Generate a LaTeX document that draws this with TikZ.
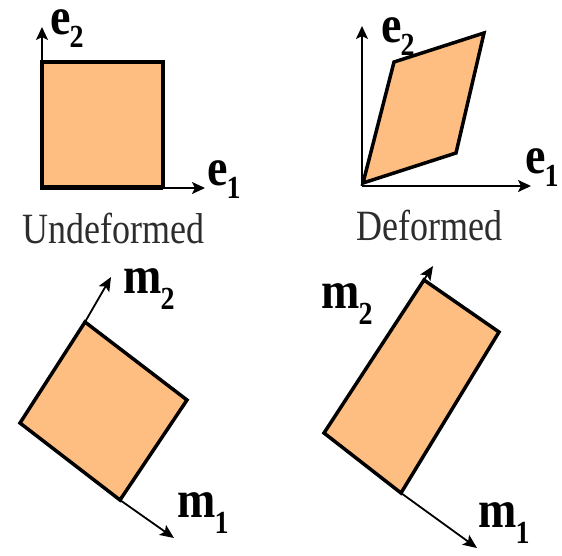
\documentclass[tikz,border=0pt]{standalone}
\usepackage{fontspec}
\setmainfont{Liberation Serif}
\usetikzlibrary{arrows.meta}
\definecolor{fillor}{RGB}{254,190,130}
\definecolor{txtgrey}{RGB}{45,45,45}
\newcommand\veclbl[3][14pt]{\scalebox{1}[1.15]{\fontsize{46}{46}\selectfont\bfseries #2\kern-1pt\raisebox{-#1}{\fontsize{28}{28}\selectfont #3}}}
\newcommand\caplbl[1]{\scalebox{1}[1.2]{\fontsize{36}{36}\selectfont #1}}
\tikzset{
  shapefill/.style={fill=fillor, draw=black, line width=3.5pt, line join=miter},
  axis/.style={draw=black, line width=2pt, -{Stealth[length=13pt,width=12pt,inset=3pt]}},
  mvec/.style={draw=black, line width=1.8pt, -{Stealth[length=14pt,width=12pt,inset=3pt]}},
  lbl/.style={inner sep=0pt, anchor=base west},
}
\begin{document}
\begin{tikzpicture}[x=1pt,y=-1pt]
\useasboundingbox (0,0) rectangle (562,555);
% ---------- undeformed ----------
\coordinate (o1) at (42,188);
\coordinate (y1) at (42,27);
\coordinate (x1) at (205,188);
\fill[fillor] (42,62) rectangle (163,188);
\draw[axis] (o1) -- (y1);
\draw[axis] (o1) -- (x1);
\draw[line width=3.5pt] (42,188) -- (42,62) -- (163,62) -- (163,188);
\draw[line width=4.5pt] (42,62) -- (163,62);
\draw[line width=5pt] (40,187) -- (163,187);
\node[lbl] (e2a) at (50,34) {\veclbl[12pt]{e}{2}};
\node[lbl] (e1a) at (207,185) {\veclbl[12pt]{e}{1}};
\node[lbl,text=txtgrey] (cap1) at (22,243) {\caplbl{Undeformed}};
% ---------- deformed ----------
\coordinate (o2) at (362,186);
\coordinate (y2) at (362,26);
\coordinate (x2) at (531,186);
\draw[axis] (o2) -- (y2);
\draw[axis] (o2) -- (x2);
\draw[shapefill] (363,183) -- (456,153) -- (484,33) -- (394,62) -- cycle;
\node[lbl] (e2b) at (381,42) {\veclbl[12pt]{e}{2}};
\node[lbl] (e1b) at (525,173) {\veclbl[12pt]{e}{1}};
\node[lbl,text=txtgrey] (cap2) at (356,240) {\caplbl{Deformed}};
% ---------- rotated square ----------
\coordinate (sT) at (85,322);
\coordinate (sR) at (187,400);
\coordinate (sB) at (120,500);
\coordinate (sL) at (20,423);
\coordinate (m2a) at (111,277);
\coordinate (m1a) at (174,538);
\draw[shapefill] (sT) -- (sR) -- (sB) -- (sL) -- cycle;
\draw[mvec] (sT) -- (m2a);
\draw[mvec] (sB) -- (m1a);
\node[lbl] (lm2a) at (123,293) {\veclbl{m}{2}};
\node[lbl] (lm1a) at (177,517) {\veclbl{m}{1}};
% ---------- rotated rectangle ----------
\coordinate (rT) at (424,280);
\coordinate (rR) at (499,332);
\coordinate (rB) at (401,493);
\coordinate (rL) at (324,433);
\coordinate (m2b) at (433,266);
\coordinate (m1b) at (477,548);
\draw[shapefill] (rT) -- (rR) -- (rB) -- (rL) -- cycle;
\draw[mvec] (rL) -- (m2b);
\draw[mvec] (rB) -- (m1b);
\node[lbl] (lm2b) at (321,308) {\veclbl{m}{2}};
\node[lbl] (lm1b) at (478,527) {\veclbl{m}{1}};
\end{tikzpicture}
\end{document}
